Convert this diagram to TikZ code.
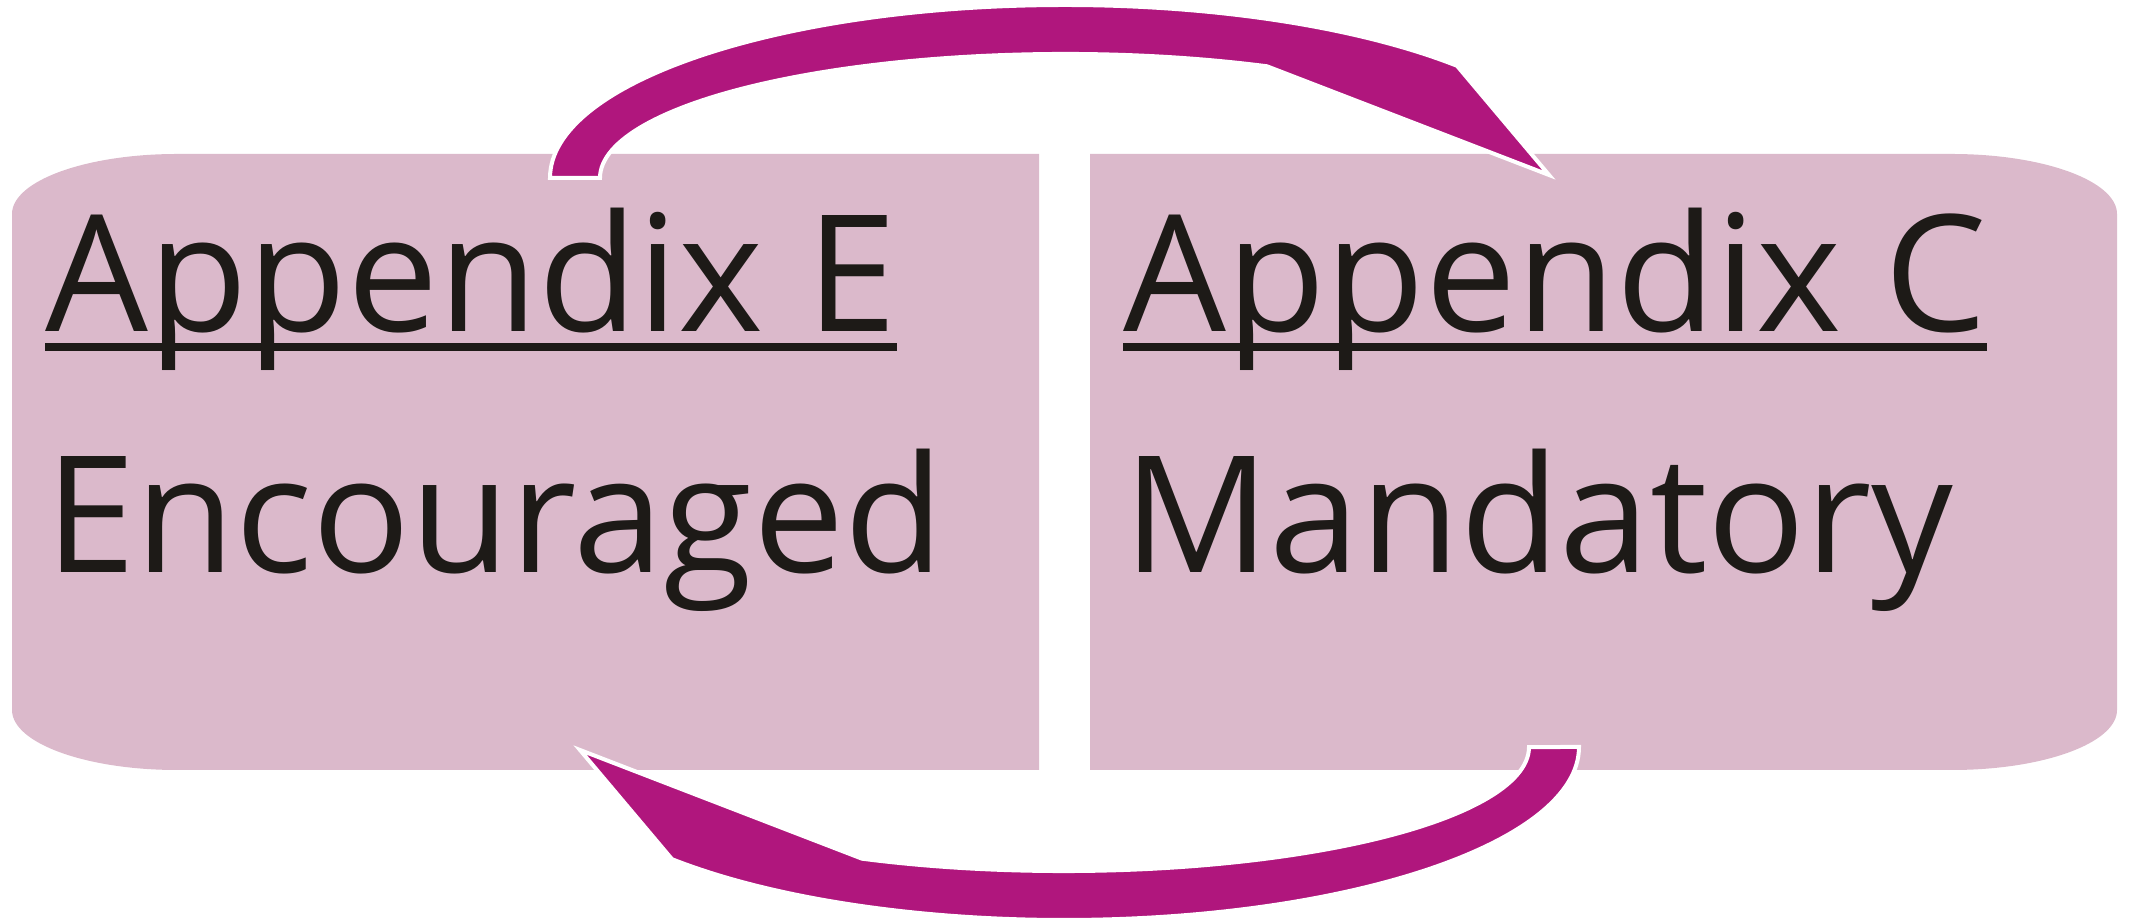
\documentclass[tikz,border=0pt]{standalone}
\usepackage{fontspec}
\setmainfont{Open Sans}
\definecolor{boxpink}{RGB}{219,185,203}
\definecolor{arrowmag}{RGB}{176,22,125}
\definecolor{txtdark}{RGB}{29,26,23}
\begin{document}
\begin{tikzpicture}[x=1pt,y=1pt,
  panel/.style={fill=boxpink, draw=none},
  cyclearrow/.style={fill=arrowmag, draw=white, line width=4pt, line join=miter, miter limit=30},
  boxtext/.style={anchor=base west, inner sep=0pt, text=txtdark, font=\fontsize{162.5}{190}\selectfont},
  underbar/.style={draw=txtdark, line width=8pt}]
\useasboundingbox (0,0) rectangle (2129,920);
% panels
\path[panel] (1039,766) -- (177,766) arc[start angle=90,end angle=180,x radius=165,y radius=60]
  -- (12,210) arc[start angle=180,end angle=270,x radius=165,y radius=60] -- (1039,150) -- cycle;
\path[panel] (1090,766) -- (1952,766) arc[start angle=90,end angle=0,x radius=165,y radius=60]
  -- (2117,210) arc[start angle=0,end angle=-90,x radius=165,y radius=60] -- (1090,150) -- cycle;
% top arrow (E -> C)
\path[cyclearrow] (550,742) arc[start angle=180,end angle=40.43,x radius=515,y radius=173]
  -- (1549,745) -- (1267,853.7) arc[start angle=64.25,end angle=180,x radius=465,y radius=124] -- cycle;
% bottom arrow (C -> E)
\begin{scope}[rotate around={180:(1064.5,457.5)}]
\path[cyclearrow] (550,742) arc[start angle=180,end angle=40.43,x radius=515,y radius=173]
  -- (1549,745) -- (1267,853.7) arc[start angle=64.25,end angle=180,x radius=465,y radius=124] -- cycle;
\end{scope}
% texts
\node[boxtext] (appE) at (45,588) {Appendix E};
\node[boxtext] (encE) at (45,347) {Encouraged};
\node[boxtext] (appC) at (1123,588) {Appendix C};
\node[boxtext] (manC) at (1123,347) {Mandatory};
\draw[underbar] ([yshift=-15pt]appE.base west) -- ([yshift=-15pt]appE.base east);
\draw[underbar] ([yshift=-15pt]appC.base west) -- ([yshift=-15pt]appC.base east);
\end{tikzpicture}
\end{document}
